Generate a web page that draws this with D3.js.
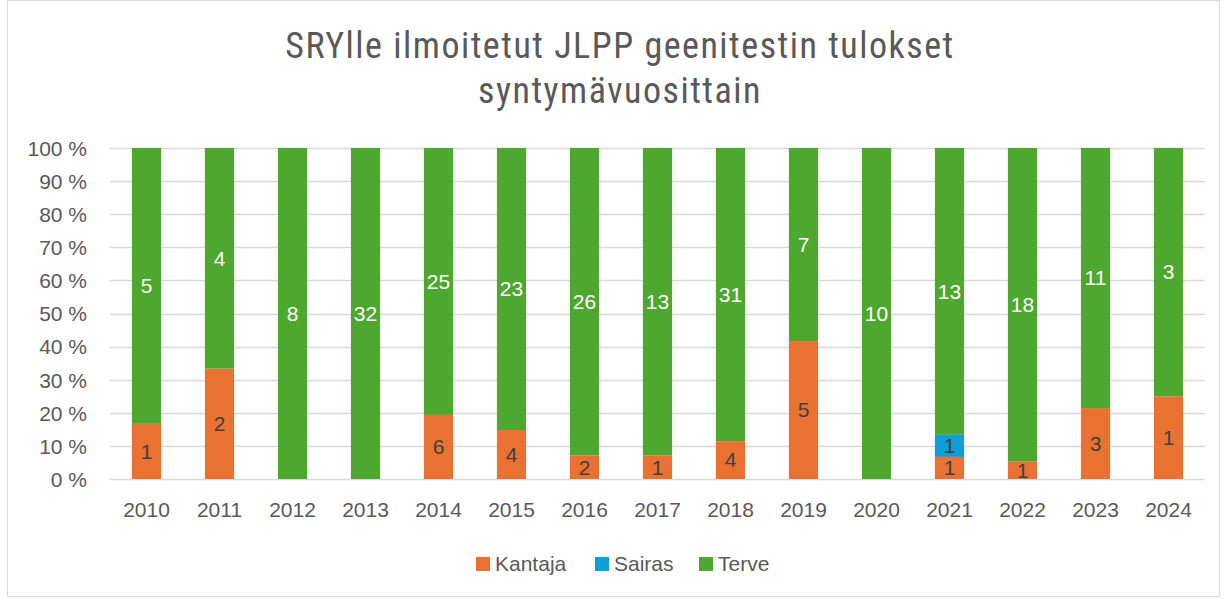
<!DOCTYPE html>
<html>
<head>
<meta charset="utf-8">
<script src="https://cdn.jsdelivr.net/npm/d3@7"></script>
<style>
  html, body { margin: 0; padding: 0; background: #fff; }
  svg { display: block; }
</style>
</head>
<body>
<svg id="chart" width="1225" height="599"></svg>
<script>
// Birth years and reported JLPP gene test results per year
const years = ["2010","2011","2012","2013","2014","2015","2016","2017","2018","2019","2020","2021","2022","2023","2024"];
const kantaja = [1, 2, 0, 0, 6, 4, 2, 1, 4, 5, 0, 1, 1, 3, 1];
const sairas  = [0, 0, 0, 0, 0, 0, 0, 0, 0, 0, 0, 1, 0, 0, 0];
const terve   = [5, 4, 8, 32, 25, 23, 26, 13, 31, 7, 10, 13, 18, 11, 3];
const seriesNames = ["Kantaja", "Sairas", "Terve"];
const yTicks = [0, 0.1, 0.2, 0.3, 0.4, 0.5, 0.6, 0.7, 0.8, 0.9, 1.0];
const titleLines = ["SRYlle ilmoitetut JLPP geenitestin tulokset", "syntymävuosittain"];

const colors = { Kantaja: "#E97132", Sairas: "#0F9ED5", Terve: "#4EA72E" };
const labelColors = { Kantaja: "#404040", Sairas: "#404040", Terve: "#ffffff" };

const svg = d3.select("#chart");
const W = 1225, H = 599;
const font = "'Liberation Sans', Arial, sans-serif";
const fs = 21;

// Chart frame
svg.append("rect").attr("x", 7.5).attr("y", 0.5).attr("width", W - 13).attr("height", H - 3)
  .attr("fill", "#fff").attr("stroke", "#d9d9d9").attr("stroke-width", 1);

const margin = { left: 110, right: 1205, top: 148, bottom: 479 };

const rows = years.map((y, i) => ({ year: y, Kantaja: kantaja[i], Sairas: sairas[i], Terve: terve[i] }));
const stacked = d3.stack().keys(seriesNames).offset(d3.stackOffsetExpand)(rows);

const x = d3.scaleBand().domain(years).range([margin.left, margin.right]).paddingInner(0.6).paddingOuter(0.3);
const y = d3.scaleLinear().domain([0, 1]).range([margin.bottom, margin.top]);

// Gridlines
svg.append("g").selectAll("line").data(yTicks).join("line")
  .attr("x1", margin.left).attr("x2", margin.right)
  .attr("y1", d => Math.round(y(d)) + 0.5).attr("y2", d => Math.round(y(d)) + 0.5)
  .attr("stroke", "#d9d9d9").attr("stroke-width", 1.3);

// Y axis labels
const yAxis = d3.axisLeft(y).tickValues(yTicks).tickSize(0).tickPadding(0)
  .tickFormat(d => Math.round(d * 100) + " %");
const yg = svg.append("g").attr("transform", `translate(${margin.left - 23},0)`).call(yAxis);
yg.select(".domain").remove();
yg.selectAll("text").attr("font-family", font).attr("font-size", fs).attr("fill", "#595959").attr("dy", "0.35em");

// Bars
const layers = svg.append("g").selectAll("g").data(stacked).join("g")
  .attr("fill", d => colors[d.key]);
layers.selectAll("rect").data(d => d.map(v => ({ key: d.key, v }))).join("rect")
  .attr("x", d => x(d.v.data.year))
  .attr("width", x.bandwidth())
  .attr("y", d => y(d.v[1]))
  .attr("height", d => Math.max(0, y(d.v[0]) - y(d.v[1])));

// Data labels (counts) centered in each segment
const labels = svg.append("g");
stacked.forEach(layer => {
  layer.forEach(v => {
    const val = v.data[layer.key];
    if (!val) return;
    labels.append("text")
      .attr("x", x(v.data.year) + x.bandwidth() / 2)
      .attr("y", (y(v[0]) + y(v[1])) / 2)
      .attr("dy", "0.35em")
      .attr("text-anchor", "middle")
      .attr("font-family", font).attr("font-size", fs)
      .attr("fill", labelColors[layer.key])
      .text(val);
  });
});

// X axis labels
const xAxis = d3.axisBottom(x).tickSize(0).tickPadding(0);
const xg = svg.append("g").attr("transform", `translate(0,${margin.bottom + 31})`).call(xAxis);
xg.select(".domain").remove();
xg.selectAll("text").attr("font-family", font).attr("font-size", fs).attr("fill", "#595959").attr("dy", "0.35em");

// Title
const title = svg.append("text").attr("text-anchor", "middle")
  .attr("font-family", "'Roboto Condensed', 'Liberation Sans Narrow', sans-serif")
  .attr("font-size", 36).attr("letter-spacing", 1.5).attr("fill", "#595959");
titleLines.forEach((t, i) => {
  title.append("tspan").attr("x", 620).attr("y", 58 + i * 45).text(t);
});

// Legend
const legendX = [476, 595, 699];
const leg = svg.append("g");
seriesNames.forEach((name, i) => {
  leg.append("rect").attr("x", legendX[i]).attr("y", 557).attr("width", 14).attr("height", 14)
    .attr("fill", colors[name]);
  leg.append("text").attr("x", legendX[i] + 19).attr("y", 564).attr("dy", "0.35em")
    .attr("font-family", font).attr("font-size", fs).attr("fill", "#595959").text(name);
});
</script>
</body>
</html>
